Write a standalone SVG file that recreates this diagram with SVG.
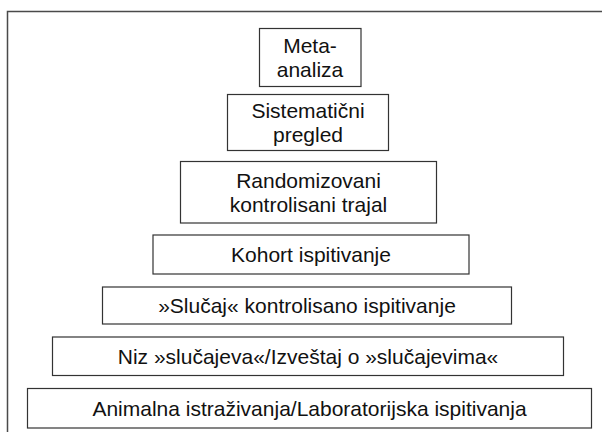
<svg xmlns="http://www.w3.org/2000/svg" width="602" height="432" viewBox="0 0 602 432">
<style>
.frame{fill:none;stroke:#4a4a4a;stroke-width:1.5}
.box{fill:#fff;stroke:#333;stroke-width:1.2}
.t{font-family:"Liberation Sans","Open Sans",sans-serif;font-size:21px;fill:#111;text-anchor:middle}
</style>
<rect width="602" height="432" fill="#fff"/>
<rect class="frame" x="7.5" y="11.5" width="600" height="430"/>
<g id="meta">
<rect class="box" x="259.5" y="28.5" width="101.5" height="58"/>
<text class="t" x="310" y="52.5">Meta-</text>
<text class="t" x="310" y="76.5">analiza</text>
</g>
<g id="sistematicni">
<rect class="box" x="227.5" y="94.5" width="161" height="56"/>
<text class="t" x="308" y="117.5">Sistematični</text>
<text class="t" x="308" y="141.5">pregled</text>
</g>
<g id="randomizovani">
<rect class="box" x="180.5" y="161.5" width="256" height="61.5"/>
<text class="t" x="308.5" y="187.5">Randomizovani</text>
<text class="t" x="308.5" y="211.5">kontrolisani trajal</text>
</g>
<g id="kohort">
<rect class="box" x="153" y="235" width="316" height="39"/>
<text class="t" x="311" y="262">Kohort ispitivanje</text>
</g>
<g id="slucaj">
<rect class="box" x="102.5" y="287" width="409" height="37"/>
<text class="t" x="307" y="313">»Slučaj« kontrolisano ispitivanje</text>
</g>
<g id="niz">
<rect class="box" x="52.5" y="337" width="511" height="38.5"/>
<text class="t" x="308" y="363.5">Niz »slučajeva«/Izveštaj o »slučajevima«</text>
</g>
<g id="animalna">
<rect class="box" x="27.5" y="388.5" width="564" height="39.5"/>
<text class="t" x="309.5" y="415.5">Animalna istraživanja/Laboratorijska ispitivanja</text>
</g>
<g id="connectors"></g>
</svg>
